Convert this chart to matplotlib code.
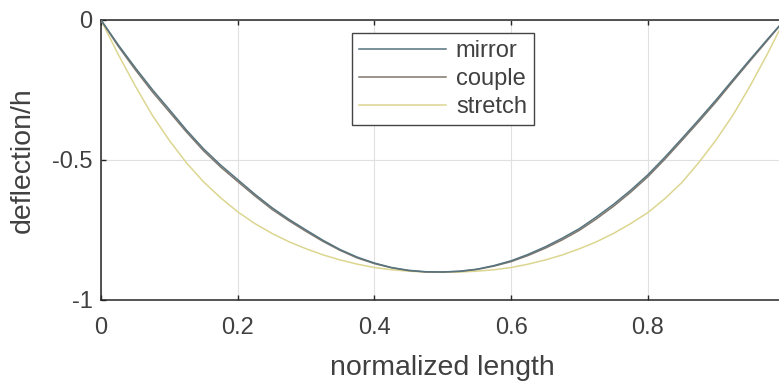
import numpy as np
import matplotlib
matplotlib.use('Agg')
import matplotlib.pyplot as plt

plt.rcParams['font.family'] = ['Liberation Sans', 'DejaVu Sans']

# normalized position along the beam (0.025 steps)
x = [0.0, 0.025, 0.05, 0.075, 0.1, 0.125, 0.15, 0.175, 0.2, 0.225, 0.25, 0.275,
     0.3, 0.325, 0.35, 0.375, 0.4, 0.425, 0.45, 0.475, 0.5, 0.525, 0.55, 0.575,
     0.6, 0.625, 0.65, 0.675, 0.7, 0.725, 0.75, 0.775, 0.8, 0.825, 0.85, 0.875,
     0.9, 0.925, 0.95, 0.975, 1.0]

mirror = [0.0, -0.088, -0.17, -0.248, -0.32, -0.393, -0.46, -0.518, -0.57, -0.622, -0.67, -0.712,
          -0.75, -0.787, -0.82, -0.847, -0.868, -0.884, -0.894, -0.899, -0.9, -0.897, -0.89, -0.877,
          -0.86, -0.837, -0.81, -0.779, -0.745, -0.703, -0.658, -0.608, -0.553, -0.49, -0.423, -0.355,
          -0.285, -0.212, -0.14, -0.069, 0.0]
couple = [0.0, -0.093, -0.177, -0.256, -0.328, -0.4, -0.467, -0.525, -0.577, -0.628, -0.676, -0.717,
          -0.755, -0.791, -0.823, -0.85, -0.87, -0.885, -0.895, -0.9, -0.9, -0.898, -0.891, -0.879,
          -0.863, -0.841, -0.815, -0.785, -0.751, -0.71, -0.665, -0.615, -0.56, -0.497, -0.43, -0.362,
          -0.292, -0.218, -0.145, -0.073, 0.0]
stretch = [0.0, -0.122, -0.235, -0.34, -0.43, -0.51, -0.578, -0.635, -0.685, -0.727, -0.762, -0.792,
           -0.817, -0.839, -0.857, -0.872, -0.884, -0.892, -0.897, -0.9, -0.901, -0.9, -0.897, -0.892,
           -0.884, -0.872, -0.857, -0.839, -0.817, -0.792, -0.762, -0.727, -0.688, -0.638, -0.58, -0.508,
           -0.428, -0.338, -0.234, -0.121, 0.0]

xticks = [0, 0.2, 0.4, 0.6, 0.8, 1]
xticklabels = ['0', '0.2', '0.4', '0.6', '0.8', '1']
yticks = [-1, -0.5, 0]
yticklabels = ['-1', '-0.5', '0']

fig = plt.figure(figsize=(7.79, 3.85), dpi=100)
ax = fig.add_axes([101 / 779, 85 / 385, 683.5 / 779, 280 / 385])

ax.plot(x, stretch, color='#dcd690', linewidth=1.1, label='stretch', zorder=3)
ax.plot(x, couple, color='#80776d', linewidth=1.1, label='couple', zorder=4)
ax.plot(x, mirror, color='#56737e', linewidth=1.1, label='mirror', zorder=5)

ax.set_xlim(0, 1)
ax.set_ylim(-1, 0)
ax.set_xticks(xticks)
ax.set_xticklabels(xticklabels)
ax.set_yticks(yticks)
ax.set_yticklabels(yticklabels)
ax.grid(True, color='#e0e0e0', linewidth=0.8)
ax.set_axisbelow(True)

for s in ax.spines.values():
    s.set_color('#262626')
    s.set_linewidth(1.1)
ax.tick_params(direction='in', length=3.5, width=1.0, color='#262626',
               labelsize=17, labelcolor='#404040', top=True, right=True)
ax.tick_params(axis='x', pad=12)
ax.tick_params(axis='y', pad=6)

ax.set_xlabel('normalized length', fontsize=20.5, color='#404040', labelpad=12)
ax.set_ylabel('deflection/h', fontsize=20.5, color='#404040', labelpad=12)

handles, labels = ax.get_legend_handles_labels()
order = [2, 1, 0]
leg = ax.legend([handles[i] for i in order], [labels[i] for i in order],
                loc='upper left', bbox_to_anchor=(352 / 779, 1 - 33 / 385),
                bbox_transform=fig.transFigure, borderaxespad=0,
                fontsize=17, handlelength=3.7, handletextpad=0.4,
                labelspacing=0.25, borderpad=0.3, fancybox=False,
                framealpha=1, edgecolor='#444444')
leg.get_frame().set_linewidth(1.0)
for t in leg.get_texts():
    t.set_color('#404040')

fig.savefig('out.png', dpi=100)
